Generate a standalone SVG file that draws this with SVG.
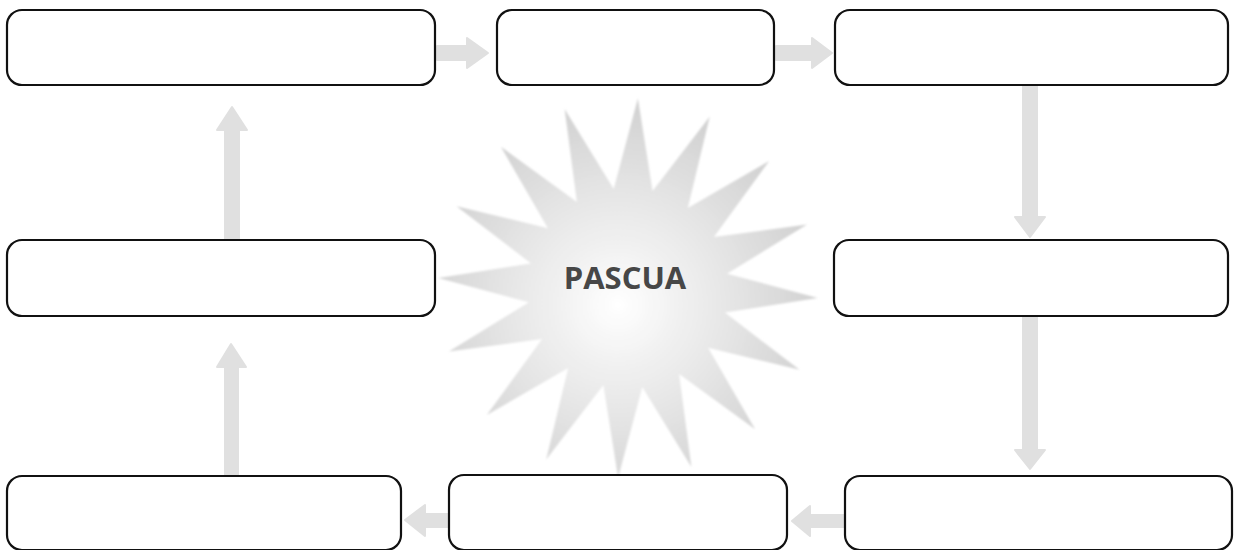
<svg xmlns="http://www.w3.org/2000/svg" width="1234" height="550" viewBox="0 0 1234 550">
  <defs>
    <style>
      .box { fill: #ffffff; stroke: #111111; stroke-width: 2.2; }
      .arrow { fill: #e0e0e0; stroke: #e0e0e0; stroke-width: 2; stroke-linejoin: round; }
      .title { font-family: "Open Sans", "Liberation Sans", sans-serif; font-weight: 700; font-size: 31px; fill: #474747; }
    </style>
    <radialGradient id="starFill" cx="618" cy="305" r="195" gradientUnits="userSpaceOnUse">
      <stop offset="0" stop-color="#ffffff"/>
      <stop offset="0.35" stop-color="#efefef"/>
      <stop offset="1" stop-color="#d3d3d3"/>
    </radialGradient>
    <filter id="soft" x="-10%" y="-10%" width="120%" height="120%">
      <feGaussianBlur stdDeviation="1"/>
    </filter>
  </defs>
  <rect width="1234" height="550" fill="#ffffff"/>

  <g id="connectors">
    <!-- top row, left to right -->
    <path class="arrow" d="M437,46 L467,46 L467,38 L488,53 L467,68 L467,60 L437,60 Z"/>
    <path class="arrow" d="M776,46 L812,46 L812,38 L832,53 L812,68 L812,60 L776,60 Z"/>
    <!-- right column, downward -->
    <path class="arrow" d="M1023,86 L1037,86 L1037,217 L1045,217 L1030,237 L1015,217 L1023,217 Z"/>
    <path class="arrow" d="M1023,317 L1037,317 L1037,450 L1045,450 L1030,469 L1015,450 L1023,450 Z"/>
    <!-- bottom row, right to left -->
    <path class="arrow" d="M845,515 L810,515 L810,506 L792,521 L810,536 L810,527 L845,527 Z"/>
    <path class="arrow" d="M449,514 L425,514 L425,505 L405,520 L425,536 L425,527 L449,527 Z"/>
    <!-- left column, upward -->
    <path class="arrow" d="M225,475 L238,475 L238,367 L246,367 L231,344 L217,367 L225,367 Z"/>
    <path class="arrow" d="M225,239 L239,239 L239,130 L247,130 L232,107 L217,130 L225,130 Z"/>
  </g>

  <g id="star">
    <polygon filter="url(#soft)" fill="url(#starFill)" points="637.9,98.3 652.6,191.1 709.8,116.5 687.8,207.9 769.2,160.9 713.9,236.9 807.1,224.6 727.0,273.7 817.7,297.9 724.9,312.6 799.5,369.8 708.1,347.8 755.1,429.2 679.1,373.9 691.4,467.1 642.3,387.0 618.1,477.7 603.4,384.9 546.2,459.5 568.2,368.1 486.8,415.1 542.1,339.1 448.9,351.4 529.0,302.3 438.3,278.1 531.1,263.4 456.5,206.2 547.9,228.2 500.9,146.8 576.9,202.1 564.6,108.9 613.7,189.0"/>
    <text class="title" x="625" y="289" text-anchor="middle">PASCUA</text>
  </g>

  <g id="box-top-left"><rect class="box" x="7" y="10" width="428" height="75" rx="15"/></g>
  <g id="box-top-middle"><rect class="box" x="497" y="10" width="277" height="75" rx="15"/></g>
  <g id="box-top-right"><rect class="box" x="835" y="10" width="393" height="75" rx="15"/></g>
  <g id="box-middle-left"><rect class="box" x="7" y="240" width="428" height="76" rx="15"/></g>
  <g id="box-middle-right"><rect class="box" x="834" y="240" width="394" height="76" rx="15"/></g>
  <g id="box-bottom-left"><rect class="box" x="7" y="476" width="394" height="74" rx="15"/></g>
  <g id="box-bottom-middle"><rect class="box" x="449" y="475" width="338" height="75" rx="15"/></g>
  <g id="box-bottom-right"><rect class="box" x="845" y="476" width="387" height="74" rx="15"/></g>
</svg>
